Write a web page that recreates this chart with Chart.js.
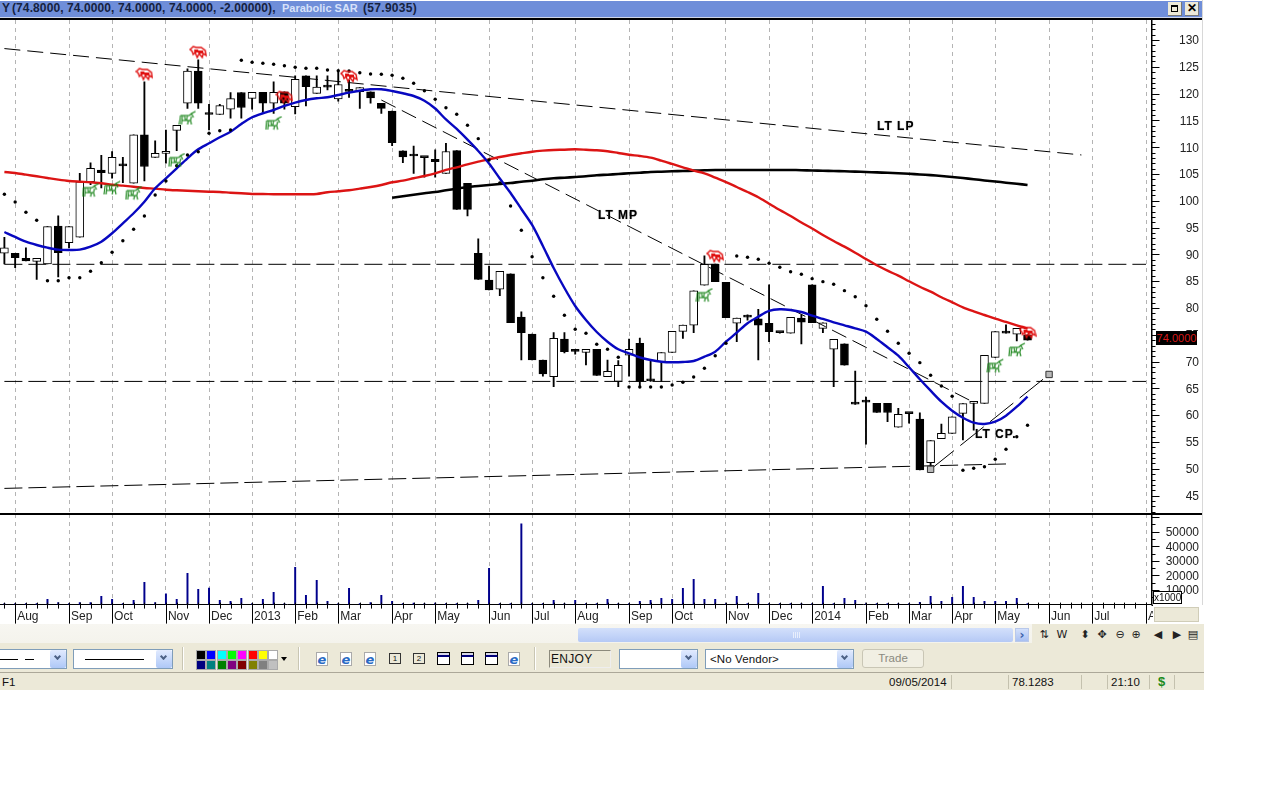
<!DOCTYPE html>
<html><head><meta charset="utf-8"><title>ENJOY</title>
<script src="https://cdn.jsdelivr.net/npm/chart.js@4"></script>
<style>
html,body{margin:0;padding:0;background:#fff;overflow:hidden}
#app{position:absolute;left:0;top:0;width:1204px;height:691px;overflow:hidden;background:#fff;font-family:"Liberation Sans",Arial,sans-serif;font-size:11px;color:#111}
.a{position:absolute;white-space:nowrap}
canvas{position:absolute}
</style></head><body><div id="app">
<canvas id="price" width="1200" height="493" style="left:-1px;top:20px"></canvas>
<canvas id="vol" width="1200" height="110" style="left:-1px;top:514px"></canvas>
</div>
<script>
// ---- weekly candles ----
const opens=[90.25,90.2,89.27,88.7,88.2,95.3,92.2,93.2,103.56,105.75,105.1,106.5,103.3,112.3,108.1,108.85,113.15,118.2,124.2,116.3,116.1,117.1,120.2,119.1,120.25,118.2,120.35,117.55,123.3,120.05,121.2,119,120.4,120.35,120.35,118.2,116.75,109.3,108.35,108.05,107.75,105.1,109.35,103.25,90.2,85.2,83.5,86.35,78.3,75.15,70.3,67.2,74.2,72.3,71.7,72.3,67.2,66.3,71.2,73.4,66.4,70,71.7,75.65,76.8,84.25,88.2,84.8,77.15,78.3,78,77.15,75.4,75.3,78.1,84.3,76.2,72.3,73.3,62.2,62.45,62.2,62.2,57.75,60.3,59.25,51.15,55.6,56.6,60.35,62.2,62.2,70.8,75.3,75.1,75];
const highs=[93.2,90.2,91.2,89.27,95.17,97.2,95.17,105.1,107.1,108.5,109.2,108.1,112.3,122.2,111.2,113.2,114.1,124.6,126.3,118,118,120.2,120.2,120.25,120.25,122.2,120.35,123.3,123.3,123.3,123.3,124,122.5,121.1,120.35,118.2,116.75,109.3,110.2,108.05,109.5,110.7,109.35,103.25,92.9,87.8,86.85,86.35,79.3,75.15,70.3,75.4,75.4,72.3,72.3,72.3,70.3,70.2,74.2,74.4,70.3,71.7,75.65,76.8,83.2,89.75,88.2,84.8,78.1,78.7,79.75,84.3,75.4,78.25,78.7,84.3,77.25,74.15,73.3,68.25,63.4,62.2,62.2,61.3,60.3,60.45,55.25,58.35,59.7,62.15,62.5,71.15,75.6,76.85,76.2,75];
const lows=[88.2,87.5,88.8,85.35,88.2,85.8,91.2,93.2,103,102.4,104.2,103.4,103.3,103.7,108.1,107,109.35,117.25,117.25,113.2,116.1,115.4,115.4,117.1,116.5,116.3,117.1,116.2,117.7,120.05,120.7,118.6,119.3,117.25,118.2,116.3,110.3,107.1,105.1,104.4,104.4,105.1,98.4,97.2,85.35,83.35,82.3,77.25,70.3,70.3,67.3,65.3,71.6,71.4,69.4,67.4,67.2,65.3,67.3,65.4,66.3,66.3,71.7,74.3,75.4,84.25,84.9,78.2,73.7,77.75,70.3,73.7,75.3,75.3,73.3,77.25,75.4,65.3,69.35,62,54.6,60.5,58.8,57.75,58.5,49.8,50.1,55.6,56.6,55.4,57.2,62.2,70.8,75.3,73.85,74];
const closes=[91.2,89.4,88.8,89.27,95.17,90.3,95.17,103.56,106.06,105.25,108.1,106.5,112.3,106.4,108.85,109.2,114.1,124.2,118.2,116.1,117.75,119.05,117.4,120.25,118.2,120.25,118.2,122.65,121.3,121.2,121.2,121.7,120.4,121.1,119.2,117.25,110.85,108.2,108.35,108.05,107.3,109.2,98.4,98.4,85.35,83.35,86.85,77.25,75.4,70.3,67.7,74.35,71.85,71.9,72.3,67.4,68.2,69.3,72.3,66.3,66.4,71.7,75.65,76.8,83.2,88.15,84.9,78.2,78.1,78.3,76.8,75.6,75.4,78.25,77.35,77.25,77.25,74.15,69.35,62.05,62.45,60.5,60.5,60.15,60.3,49.8,55.25,56.6,59.7,62.15,62.5,71.15,75.6,75.3,76.2,74];
// ---- indicators ----
const blueMA=[94.18,93.25,92.37,91.75,91.25,90.88,90.82,90.88,91.44,92.37,93.94,95.8,97.67,99.83,102.33,104.2,106.06,107.93,109.6,110.73,111.85,112.89,114.33,115.58,116.33,116.94,117.69,118.3,118.8,119.12,119.31,119.74,120.17,120.54,120.8,120.8,120.49,120.06,119.55,118.67,117.22,115.17,113.4,111.4,109.29,106.96,104.16,101.45,98.47,95.49,91.57,87.46,83.73,80.37,77.76,75.52,73.71,72.29,71.55,70.8,70.3,69.98,69.87,69.92,70.11,70.91,71.85,73.71,75.39,77.15,78.38,79.44,79.76,79.63,79.25,78.56,77.95,77.33,76.77,76.21,75.58,74.22,72.67,71.1,68.94,66.7,64.57,62.52,60.84,59.53,58.6,58.36,58.78,59.91,61.58,63.45];
const redMA=[105.37,105.19,104.87,104.57,104.25,103.94,103.69,103.56,103.45,103.26,103,102.82,102.63,102.39,102.26,102.07,101.96,101.88,101.77,101.7,101.64,101.51,101.4,101.27,101.27,101.23,101.21,101.21,101.23,101.27,101.59,101.77,101.96,102.26,102.57,102.95,103.45,103.75,104.2,104.63,105.13,105.75,106.25,106.81,107.3,107.74,108.17,108.55,108.86,109.16,109.35,109.48,109.53,109.61,109.53,109.42,109.24,108.92,108.6,108.36,108.04,107.48,106.87,106.25,105.62,105.13,104.31,103.5,102.57,101.64,100.65,99.46,98.28,97.16,95.95,94.83,93.62,92.5,91.44,90.32,89.14,87.97,86.96,86.03,84.98,83.97,83.04,82,81.06,80.13,79.38,78.69,78,77.39,76.77,76.14];
const blackMAStart=36;
const blackMA=[100.58,100.84,101.14,101.4,101.64,101.96,102.26,102.57,102.76,102.95,103.13,103.32,103.56,103.75,104.01,104.2,104.31,104.44,104.57,104.76,104.87,105,105.13,105.24,105.37,105.43,105.5,105.56,105.62,105.69,105.75,105.75,105.75,105.75,105.75,105.75,105.75,105.75,105.71,105.65,105.6,105.56,105.5,105.45,105.37,105.3,105.22,105.15,105.04,104.91,104.78,104.63,104.44,104.25,104.03,103.8,103.6,103.38,103.17,102.95];
const sar=[101.21,99.78,97.85,96.36,85.09,85.09,85.65,85.65,86.85,88.45,90.39,92.55,94.68,97.16,101.08,103.69,106.55,108.55,109.16,112.59,113.08,113.21,126.21,125.84,125.65,125.47,125.2,124.91,124.72,124.72,124.4,124.27,124.22,123.9,123.66,123.6,123.41,122.86,121.92,120.54,118.94,117.37,116.14,114.09,111.59,107.61,103.32,99.03,94.5,89.57,85.65,82.18,78.64,76.03,75.28,73.23,72.29,70.8,65.26,65.26,65.26,65.26,65.63,66.14,67.13,68.75,71.1,73.41,89.7,89.46,89.09,88.34,87.59,86.77,86.29,85.47,84.91,84.42,83.23,82.11,80.43,77.89,75.65,73.41,71.55,69.8,67.44,65.45,63.53,49.72,50.09,50.39,51.77,53.64,55.99,58.12];
// ---- volume ----
const volumes=[700,700,700,700,3650,1370,700,1370,1370,5700,3650,700,3000,15300,1370,7300,3650,21400,10500,11400,3000,2300,4300,700,3650,8400,700,25500,6400,16600,2300,700,11200,700,1370,6400,2300,700,1100,700,1100,700,700,700,3000,24900,700,700,55400,700,700,3000,700,3000,700,700,3650,700,700,2300,3000,4300,3650,11200,17300,3650,3650,700,5700,700,7750,700,700,700,700,700,12500,700,4300,3000,700,700,700,700,700,1600,5700,2300,5000,12500,5000,2300,2300,2300,4300,700];
// ---- trend lines: week index, value ----
const ltLpWeeks=[0,100],   ltLpValues=[128.4,108.55];
const ltMpWeeks=[35,90],   ltMpValues=[118.8,62.4];
const ltCpWeeks=[86,97],   ltCpValues=[49.9,67.6];
const floorWeeks=[0,93],   floorValues=[46.34,50.9];
const resistanceWeeks=[0,106], resistanceValues=[88.15,88.15];
const supportWeeks=[0,106],    supportValues=[66.3,66.3];
// ---- signals ----
const bearWeeks=[13,18,26,32,66,95],       bearValues=[123.66,127.76,119.37,123.28,89.7,75.5];
const bullWeeks=[8,10,12,16,17,25,65,92,94], bullValues=[102,102.4,101.45,107.6,115.45,114.5,82.4,69.2,72.2];
// ---- axis ----
const weekCount=107;
const monthWeeks=[1,6,10,15,19,23,27,31,36,40,45,49,53,58,62,67,71,75,80,84,88,92,97,101,106];
const monthNames=["Aug","Sep","Oct","Nov","Dec","2013","Feb","Mar","Apr","May","Jun","Jul","Aug","Sep","Oct","Nov","Dec","2014","Feb","Mar","Apr","May","Jun","Jul","Aug"];
const volumeTicks=[0,5000,10000,15000,20000,25000,30000,35000,40000,45000,50000,55000,60000];
const priceMin=41.75, priceMax=133.73, volMax=62055;
const categories=Array.from({length:weekCount},(_,i)=>"W"+i);

function sparse(weeks,values){const a=new Array(weekCount).fill(null);weeks.forEach((w,k)=>a[w]=values[k]);return a;}
function sprite(draw){const c=document.createElement('canvas');c.width=18;c.height=15;draw(c.getContext('2d'));return c;}
const bearIcon=sprite(g=>{g.strokeStyle='#e01010';g.fillStyle='#e01010';g.lineWidth=1.4;
 g.beginPath();g.moveTo(1,5);g.lineTo(4,2);g.lineTo(7,3);g.lineTo(12,3);g.lineTo(16,6);g.lineTo(17,11);g.lineTo(14,9);g.lineTo(13,13);g.lineTo(10,9);g.lineTo(8,13);g.lineTo(6,8);g.lineTo(4,10);g.lineTo(3,7);g.closePath();g.stroke();
 g.fillRect(5,5,4,3);g.fillRect(9,6,5,3);});
const bullIcon=sprite(g=>{g.strokeStyle='#128012';g.lineWidth=1.1;
 g.beginPath();g.moveTo(2,5);g.lineTo(1,14);g.moveTo(4,5);g.lineTo(3,14);g.moveTo(2,5);g.lineTo(11,5);g.lineTo(13,3);g.lineTo(17,1);g.moveTo(13,3);g.lineTo(15,7);g.moveTo(4,10);g.lineTo(12,10);g.lineTo(13,6);g.moveTo(12,10);g.lineTo(13,14);g.moveTo(10,10);g.lineTo(9,14);g.moveTo(6,5);g.lineTo(7,10);g.moveTo(9,5);g.lineTo(8,10);g.stroke();});

const isMonth=new Set(monthWeeks);
const bodyData=opens.map((o,i)=>[o,closes[i]]);
const wickData=lows.map((l,i)=>[l,highs[i]]);
const isUp=i=>closes[i]>opens[i];
const AXIS_W=47.6;

const xGrid={display:true,offset:false,drawTicks:false,lineWidth:1,color:c=>isMonth.has(c.index)?'#b4b4b4':'rgba(0,0,0,0)'};
const stripPad=s=>{s.paddingTop=0;s.paddingBottom=0;s.paddingLeft=0;s.paddingRight=0;};

const yTicksPlugin=(major,minorOK)=>({id:'marks',afterDraw(ch){
  const g=ch.ctx,y=ch.scales.y,x0=Math.round(y.left)+.5;
  g.save();g.strokeStyle='#000';g.lineWidth=1;g.beginPath();
  y.ticks.forEach(t=>{ if(!minorOK(t.value))return; const py=Math.round(y.getPixelForValue(t.value))+.5;
    g.moveTo(x0,py);g.lineTo(x0+(t.value%major===0?8:4),py);});
  g.stroke();
  const xs=ch.scales.x;
  if(xs.options.ticks.display){
    g.beginPath();
    categories.forEach((c,i)=>{const px=Math.round(xs.getPixelForTick(i))+.5,b=ch.chartArea.bottom;
      g.moveTo(px,b-2);g.lineTo(px,b+(isMonth.has(i)?19:4));});
    g.stroke();
  }
  g.restore();
}});

new Chart(document.getElementById('price'),{
 type:'bar',
 plugins:[yTicksPlugin(5,v=>Number.isInteger(v))],
 data:{labels:categories,datasets:[
  {label:'Wicks',data:wickData,backgroundColor:'#000',barThickness:1.2,grouped:false,order:9},
  {label:'Bodies',data:bodyData,backgroundColor:c=>isUp(c.dataIndex)?'#fff':'#000',borderColor:'#000',borderWidth:1,borderSkipped:false,barThickness:8,minBarLength:2,grouped:false,order:8},
  {type:'line',label:'LT LP',data:sparse(ltLpWeeks,ltLpValues),spanGaps:true,borderColor:'#000',borderWidth:1,borderDash:[16,7],pointRadius:0,order:7},
  {type:'line',label:'LT MP',data:sparse(ltMpWeeks,ltMpValues),spanGaps:true,borderColor:'#000',borderWidth:1,borderDash:[16,7],pointRadius:0,order:7},
  {type:'line',label:'LT CP',data:sparse(ltCpWeeks,ltCpValues),spanGaps:true,borderColor:'#000',borderWidth:1,borderDash:[30,8],pointStyle:'rect',pointRadius:4.5,pointBackgroundColor:'#b9b9b9',pointBorderColor:'#333',pointBorderWidth:1,order:7},
  {type:'line',label:'Floor',data:sparse(floorWeeks,floorValues),spanGaps:true,borderColor:'#000',borderWidth:1,borderDash:[18,6],pointRadius:0,order:7},
  {type:'line',label:'Resistance',data:sparse(resistanceWeeks,resistanceValues),spanGaps:true,borderColor:'#000',borderWidth:1,borderDash:[18,6],pointRadius:0,order:7},
  {type:'line',label:'Support',data:sparse(supportWeeks,supportValues),spanGaps:true,borderColor:'#000',borderWidth:1,borderDash:[18,6],pointRadius:0,order:7},
  {type:'line',label:'Black MA',data:new Array(blackMAStart).fill(null).concat(blackMA),borderColor:'#000',borderWidth:2.6,pointRadius:0,tension:.3,order:5},
  {type:'line',label:'Red MA',data:redMA,borderColor:'#dc1414',borderWidth:2.4,pointRadius:0,tension:.3,order:4},
  {type:'line',label:'Blue MA',data:blueMA,borderColor:'#0808c0',borderWidth:2.4,pointRadius:0,tension:.3,order:3},
  {type:'line',label:'Parabolic SAR',data:sar,showLine:false,pointStyle:'circle',pointRadius:1.7,pointBackgroundColor:'#000',pointBorderWidth:0,order:2},
  {type:'line',label:'Bull',data:sparse(bullWeeks,bullValues),showLine:false,pointStyle:bullIcon,pointRadius:8,order:1},
  {type:'line',label:'Bear',data:sparse(bearWeeks,bearValues),showLine:false,pointStyle:bearIcon,pointRadius:8,order:0}
 ]},
 options:{responsive:false,animation:false,events:[],layout:{padding:0,autoPadding:false},
  plugins:{legend:{display:false},tooltip:{enabled:false}},
  scales:{
   x:{type:'category',offset:true,grid:xGrid,border:{display:false,dash:[4,4]},ticks:{display:false,autoSkip:false},afterFit(s){s.height=0;stripPad(s);}},
   y:{type:'linear',position:'right',min:priceMin,max:priceMax,grid:{display:false,drawTicks:false},border:{display:true,color:'#000',width:1.5},
      ticks:{stepSize:1,autoSkip:false,includeBounds:false,crossAlign:'far',padding:0,labelOffset:1,color:'#222',font:{family:'"Liberation Sans"',size:12},callback:v=>v%5===0?String(v):''},
      afterFit(s){s.width=AXIS_W;stripPad(s);}}
  }}
});

new Chart(document.getElementById('vol'),{
 type:'bar',
 plugins:[yTicksPlugin(10000,v=>v%5000===0)],
 data:{labels:categories,datasets:[{label:'Volume',data:volumes,backgroundColor:'#00008c',barThickness:1.3}]},
 options:{responsive:false,animation:false,events:[],layout:{padding:0,autoPadding:false},
  plugins:{legend:{display:false},tooltip:{enabled:false}},
  scales:{
   x:{type:'category',offset:true,grid:xGrid,border:{display:true,color:'#000',width:1,dash:[4,4]},
      ticks:{autoSkip:false,maxRotation:0,minRotation:0,align:'start',labelOffset:2,padding:5,color:'#222',font:{family:'"Liberation Sans"',size:12},
        callback:(v,i)=>{const k=monthWeeks.indexOf(i);return k<0?'':monthNames[k];}},
      afterFit(s){s.height=19.4;stripPad(s);}},
   y:{type:'linear',position:'right',min:0,max:volMax,grid:{display:false,drawTicks:false},border:{display:true,color:'#000',width:1.5},
      afterBuildTicks(s){s.ticks=volumeTicks.map(value=>({value}));},
      ticks:{autoSkip:false,crossAlign:'far',padding:0,labelOffset:1,color:'#222',font:{family:'"Liberation Sans"',size:12},
        callback:v=>(v%10000===0&&v>0&&v<=50000)?String(v):''},
      afterFit(s){s.width=AXIS_W;stripPad(s);}}
  }}
});

// ---- window frame around the chart (real text and boxes) ----
const app=document.getElementById('app');
function box(l,t,w,h,css,txt){const d=document.createElement('div');d.className='a';d.style.cssText=`left:${l}px;top:${t}px;width:${w}px;height:${h}px;${css||''}`;if(txt!==undefined)d.innerHTML=txt;app.appendChild(d);return d;}
const BEIGE='#ece9d8';
// title bar
box(0,0,1202,1,'background:#fff');
box(0,1,1202,16,'background:#6f8ed9;');
box(0,17,1202,1,'background:#cfd6e8');
box(0,18,1202,1.6,'background:#000');
const titleDark='font:bold 12px/15px "Liberation Sans";color:#16223f;';
box(2,1,10,16,titleDark,'Y');
box(12,1,268,16,titleDark+'letter-spacing:.1px','(74.8000, 74.0000, 74.0000, 74.0000, -2.00000),');
box(282,1,80,16,'font:bold 11px/15px "Liberation Sans";color:#d8e2fa','Parabolic SAR');
box(363,1,60,16,titleDark+'letter-spacing:.3px','(57.9035)');
function winBtn(l,html){box(l,2,14,14,`background:${BEIGE};border-right:1px solid #777;border-bottom:1px solid #777;box-sizing:border-box;text-align:center;font:bold 12px/13px "Liberation Sans";color:#000`,html);}
winBtn(1168,'');box(1171,5,7,7,'border:1.5px solid #000;border-top-width:2.5px;box-sizing:border-box');
winBtn(1185,'✕');
// separators, right edge
box(0,513,1202,1.5,'background:#000');
box(1202,0,1,691,'background:#d8d8d8');
// annotations
const noteCss='font:bold 12px/14px "Liberation Sans";letter-spacing:1px;color:#000;text-shadow:0 0 1px #666';
box(877,119,50,14,noteCss,'LT LP');
box(598,208,50,14,noteCss,'LT MP');
box(975,427,50,14,noteCss+';background:transparent','LT CP.');
// last-price tag (white strip hides the axis label it sits on)
box(1197,331,4,14,'background:#fff');
box(1156,331,41,14,'background:#000;color:#d81818;font:11px/14px "Liberation Sans";text-align:center','74.0000');
// x1000 + empty box
box(1153,605,51,19,'background:#fff');
box(1154,607,45,15,`background:${BEIGE};border:1px solid #d0cdb8;box-sizing:border-box`);
box(1153,591,29,13,'background:#fff;border:1px solid #000;box-sizing:border-box;font:10px/11px "Liberation Sans";text-align:center','x1000');
// scrollbar band
box(0,624,1204,19,'background:linear-gradient(#f7f6f1,#f4f3ec)');
box(578,628,435,14,'background:linear-gradient(#d3e0fb,#b5c9f5);border-radius:2px');
for(let i=0;i<4;i++)box(793+i*2,632,1,6,'background:#e8eefc');
box(1015,628,14,14,'background:linear-gradient(#d3e0fb,#a9c0f2);border:1px solid #b8c8ea;box-sizing:border-box;color:#3a5ea8;font:bold 12px/12px "DejaVu Sans";text-align:center','›');
box(1032,624,172,19,`background:${BEIGE}`);
// right-hand toolbar glyphs
[[1044,'⇅'],[1062,'W'],[1085,'⬍'],[1102,'✥'],[1120,'⊖'],[1136,'⊕'],[1158,'◀'],[1177,'▶'],[1193,'▤']].forEach(([x,t])=>box(x-7,627,14,15,'text-align:center;font:11px/15px "DejaVu Sans";color:#222',t));
// main toolbar
box(0,643,1204,29,`background:${BEIGE}`);
box(0,672,1204,1,'background:#aca899');
box(0,673,1204,17,`background:${BEIGE};border-bottom:1px solid #fff`);
function drop(l,w,inner){box(l,649,w,20,'background:#fff;border:1px solid #7f9db9;box-sizing:border-box');
  box(l+w-17,650,16,18,'background:linear-gradient(#e1eafe,#aec8f7);border-radius:2px');
  box(l+w-12.5,654,5,5,'border-right:2px solid #4d6185;border-bottom:2px solid #4d6185;transform:rotate(45deg);box-sizing:border-box');
  if(inner)box(l+5,651,w-24,16,'font:11.5px/16px "Liberation Sans";letter-spacing:.1px',inner);}
drop(-3,70);box(0,659,18,1,'background:#000');box(25,659,9,1,'background:#000');
drop(73,100);box(85,659,59,1,'background:#000');
const grip=x=>{box(x,647,1,23,'background:#c9c6b3');box(x+1,647,1,23,'background:#fff');};
grip(182);grip(298);grip(534);
const paletteTop=["#000","#00f","#0ff","#0f0","#f0f","#f00","#ff0","#fff"];
const paletteBottom=["#000080","#008080","#008000","#800080","#800000","#808000","#808080","#c0c0c0"];
paletteTop.forEach((c,i)=>box(197+i*10.3,651,8,8,`background:${c};outline:1px solid #aaa`));
paletteBottom.forEach((c,i)=>box(197+i*10.3,661,8,8,`background:${c};outline:1px solid #aaa`));
box(281,657,0,0,'border:3px solid transparent;border-top:4px solid #000');
function ie(x){box(x-6,652,12,14,'background:#fff;border:1px solid #aaa;box-sizing:border-box');
  box(x-7,652,14,14,'font:italic bold 13px/15px "DejaVu Sans";color:#2a6ac4;text-align:center','e');}
[322,346,370,514].forEach(ie);
[[395,'1'],[419,'2']].forEach(([x,t])=>box(x-6,653,12,11,'border:1px solid #333;border-top-width:1px;box-sizing:border-box;font:8px/9px "Liberation Sans";text-align:center',t));
[443,467,491].forEach(x=>{box(x-6,652,13,13,'background:#fff;border:1px solid #000;box-sizing:border-box');box(x-6,652,13,5,'background:#d8d8e8;border:1px solid #000;border-bottom:2px solid #00007a;box-sizing:border-box');});
box(549,650,62,18,'background:#ebe8d6;border:1px solid;border-color:#8c8a7c #eee #eee #8c8a7c;box-sizing:border-box;font:12px/16px "Liberation Sans";padding-left:1px;letter-spacing:.3px','ENJOY');
drop(619,79);
drop(705,149,'&lt;No Vendor&gt;');
box(862,649,62,19,'border:1px solid #c9c6b5;border-radius:3px;box-sizing:border-box;background:#f1efe3;color:#8b8a80;font:11.5px/17px "Liberation Sans";text-align:center','Trade');
// status bar
box(2,675,30,14,'font:11.5px/14px "Liberation Sans"','F1');
box(889,675,60,14,'font:11.5px/14px "Liberation Sans"','09/05/2014');
box(1012,675,50,14,'font:11.5px/14px "Liberation Sans"','78.1283');
box(1111,675,40,14,'font:11.5px/14px "Liberation Sans"','21:10');
box(1158,674,12,15,'font:bold 13px/15px "Liberation Sans";color:#1b8a1b','$');
[951,1008,1081,1107,1149,1174].forEach(x=>{box(x,675,1,14,'background:#c4c1ae');});
</script></body></html>
